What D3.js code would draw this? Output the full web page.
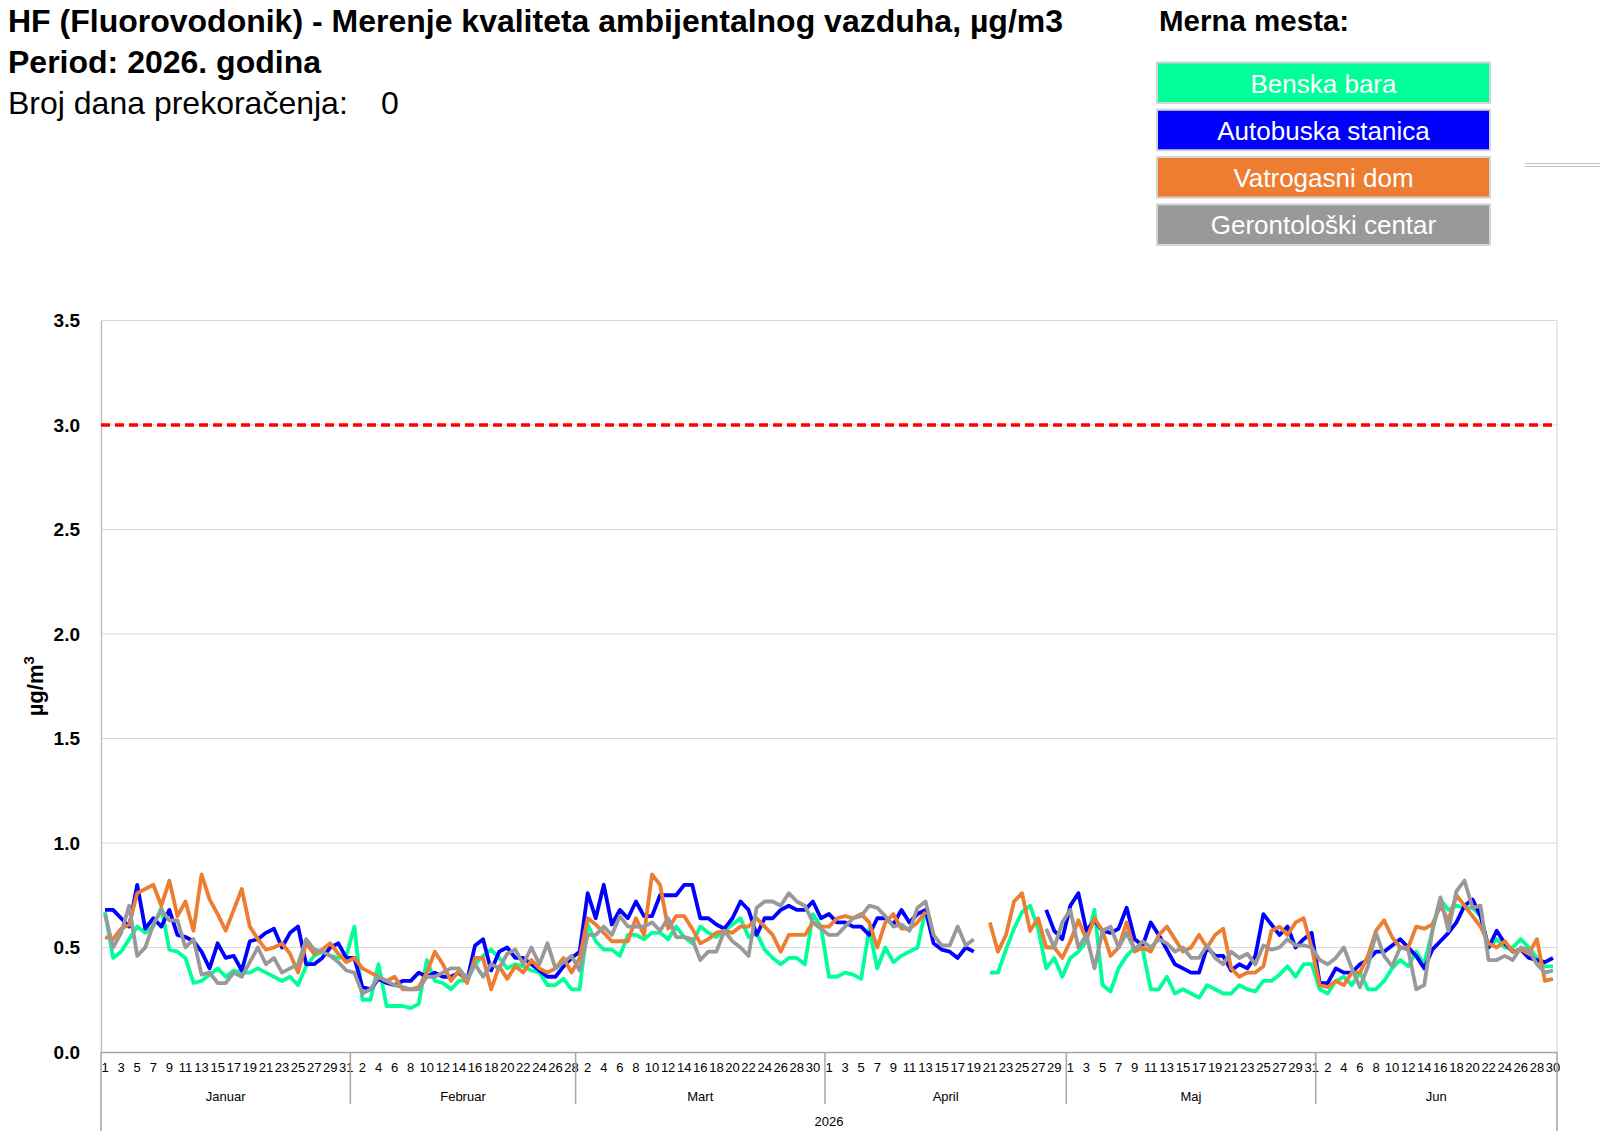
<!DOCTYPE html>
<html>
<head>
<meta charset="utf-8">
<script src="https://cdn.jsdelivr.net/npm/d3@7"></script>
<style>
  body { margin: 0; background: #fff; }
  svg { display: block; font-family: "Liberation Sans", Arial, sans-serif; }
</style>
</head>
<body>
<div id="chart"></div>
<script>
// Months and days shown on the category axis
const monthNames = ["Januar", "Februar", "Mart", "April", "Maj", "Jun"];
const monthDays = [31, 28, 31, 30, 31, 30];
const yearLabel = "2026";

const stationNames = ["Benska bara", "Autobuska stanica", "Vatrogasni dom", "Gerontološki centar"];
const stationColors = ["#00ff99", "#0000ff", "#ed7d31", "#999999"];

const limitValue = 3.0;
const exceedDays = 0;
const yTicks = [0, 0.5, 1.0, 1.5, 2.0, 2.5, 3.0, 3.5];

// Daily values, µg/m3 (null = no measurement)
const benskaBara = [
  0.67, 0.45, 0.48, 0.54, 0.60, 0.57, 0.60, 0.69, 0.49, 0.48, 0.45, 0.33, 0.34, 0.37, 0.40, 0.36, 0.39, 0.38, 0.38, 0.40, 0.38, 0.36, 0.34, 0.36, 0.32, 0.41, 0.46, 0.48, 0.46, 0.45, 0.46,
  0.60, 0.25, 0.25, 0.42, 0.22, 0.22, 0.22, 0.21, 0.23, 0.44, 0.34, 0.33, 0.30, 0.34, 0.34, 0.42, 0.46, 0.49, 0.45, 0.40, 0.42, 0.41, 0.39, 0.38, 0.32, 0.32, 0.35, 0.30,
  0.30, 0.61, 0.53, 0.49, 0.49, 0.46, 0.56, 0.56, 0.54, 0.57, 0.57, 0.54, 0.60, 0.55, 0.52, 0.60, 0.57, 0.55, 0.58, 0.61, 0.64, 0.55, 0.57, 0.49, 0.45, 0.42, 0.45, 0.45, 0.42, 0.66, 0.60,
  0.36, 0.36, 0.38, 0.37, 0.35, 0.59, 0.40, 0.50, 0.43, 0.46, 0.48, 0.50, 0.68, null, null, null, null, null, null, null, 0.38, 0.38, 0.49, 0.59, 0.67, 0.70, 0.59, 0.40, 0.45, 0.36,
  0.45, 0.48, 0.53, 0.68, 0.32, 0.29, 0.40, 0.46, 0.50, 0.49, 0.30, 0.30, 0.36, 0.28, 0.30, 0.28, 0.26, 0.32, 0.30, 0.28, 0.28, 0.32, 0.30, 0.29, 0.34, 0.34, 0.37, 0.41, 0.36, 0.42, 0.42,
  0.30, 0.28, 0.34, 0.36, 0.32, 0.38, 0.30, 0.30, 0.34, 0.40, 0.44, 0.41, 0.48, 0.42, 0.58, 0.73, 0.68, 0.70, 0.69, 0.69, 0.65, 0.50, 0.54, 0.50, 0.50, 0.54, 0.50, 0.45, 0.41, 0.41
];
const autobuskaStanica = [
  0.68, 0.68, 0.64, 0.60, 0.80, 0.59, 0.64, 0.60, 0.68, 0.56, 0.55, 0.53, 0.48, 0.40, 0.52, 0.45, 0.46, 0.39, 0.53, 0.54, 0.57, 0.59, 0.50, 0.57, 0.60, 0.42, 0.42, 0.45, 0.50, 0.52, 0.45,
  0.45, 0.31, 0.30, 0.35, 0.33, 0.32, 0.34, 0.34, 0.38, 0.36, 0.38, 0.36, 0.36, 0.38, 0.34, 0.51, 0.54, 0.39, 0.48, 0.50, 0.45, 0.45, 0.42, 0.39, 0.36, 0.36, 0.41, 0.45,
  0.48, 0.76, 0.64, 0.80, 0.61, 0.68, 0.64, 0.72, 0.65, 0.65, 0.75, 0.75, 0.75, 0.80, 0.80, 0.64, 0.64, 0.61, 0.59, 0.64, 0.72, 0.68, 0.56, 0.64, 0.64, 0.68, 0.70, 0.68, 0.68, 0.72, 0.64,
  0.66, 0.62, 0.62, 0.60, 0.60, 0.56, 0.64, 0.64, 0.61, 0.68, 0.62, 0.66, 0.68, 0.52, 0.49, 0.48, 0.45, 0.50, 0.48, null, null, null, null, null, null, null, null, 0.68, 0.58, 0.54,
  0.70, 0.76, 0.58, 0.63, 0.58, 0.57, 0.59, 0.69, 0.54, 0.51, 0.62, 0.56, 0.49, 0.42, 0.40, 0.38, 0.38, 0.50, 0.46, 0.46, 0.39, 0.42, 0.40, 0.46, 0.66, 0.61, 0.56, 0.60, 0.50, 0.54, 0.57,
  0.33, 0.33, 0.40, 0.38, 0.38, 0.42, 0.44, 0.48, 0.48, 0.51, 0.54, 0.50, 0.46, 0.40, 0.49, 0.53, 0.57, 0.62, 0.70, 0.73, 0.65, 0.50, 0.58, 0.52, 0.48, 0.49, 0.45, 0.44, 0.43, 0.45
];
const vatrogasniDom = [
  0.55, 0.54, 0.59, 0.61, 0.76, 0.78, 0.80, 0.70, 0.82, 0.65, 0.72, 0.58, 0.85, 0.73, 0.66, 0.58, 0.68, 0.78, 0.60, 0.54, 0.49, 0.50, 0.52, 0.47, 0.38, 0.52, 0.47, 0.49, 0.52, 0.47, 0.43,
  0.45, 0.40, 0.38, 0.36, 0.34, 0.36, 0.30, 0.30, 0.31, 0.38, 0.48, 0.42, 0.34, 0.39, 0.33, 0.45, 0.45, 0.30, 0.41, 0.35, 0.41, 0.38, 0.44, 0.40, 0.38, 0.40, 0.45, 0.38,
  0.45, 0.64, 0.61, 0.57, 0.53, 0.53, 0.53, 0.64, 0.56, 0.85, 0.80, 0.59, 0.65, 0.65, 0.59, 0.52, 0.54, 0.57, 0.58, 0.57, 0.60, 0.60, 0.64, 0.60, 0.56, 0.48, 0.56, 0.56, 0.56, 0.62, 0.60,
  0.60, 0.64, 0.65, 0.64, 0.66, 0.62, 0.50, 0.62, 0.66, 0.59, 0.59, 0.62, 0.67, null, null, null, null, null, null, null, 0.62, 0.48, 0.56, 0.72, 0.76, 0.58, 0.64, 0.50, 0.50, 0.45,
  0.53, 0.63, 0.54, 0.64, 0.58, 0.46, 0.50, 0.62, 0.48, 0.50, 0.48, 0.56, 0.60, 0.54, 0.48, 0.50, 0.56, 0.50, 0.56, 0.59, 0.40, 0.36, 0.38, 0.38, 0.41, 0.58, 0.60, 0.56, 0.62, 0.64, 0.50,
  0.32, 0.31, 0.34, 0.32, 0.38, 0.38, 0.46, 0.58, 0.63, 0.55, 0.50, 0.50, 0.60, 0.59, 0.61, 0.70, 0.63, 0.75, 0.70, 0.65, 0.60, 0.52, 0.50, 0.53, 0.48, 0.49, 0.47, 0.54, 0.34, 0.35
];
const gerontoloskiCentar = [
  0.66, 0.50, 0.57, 0.70, 0.46, 0.50, 0.61, 0.68, 0.63, 0.63, 0.50, 0.54, 0.37, 0.38, 0.33, 0.33, 0.38, 0.36, 0.43, 0.50, 0.42, 0.45, 0.38, 0.40, 0.42, 0.54, 0.49, 0.48, 0.46, 0.43, 0.39,
  0.38, 0.28, 0.30, 0.36, 0.34, 0.32, 0.31, 0.30, 0.30, 0.36, 0.36, 0.38, 0.40, 0.40, 0.35, 0.42, 0.36, 0.42, 0.40, 0.47, 0.49, 0.42, 0.50, 0.42, 0.52, 0.40, 0.43, 0.46,
  0.39, 0.56, 0.56, 0.60, 0.56, 0.65, 0.60, 0.60, 0.60, 0.62, 0.58, 0.64, 0.55, 0.55, 0.54, 0.44, 0.48, 0.48, 0.58, 0.53, 0.50, 0.46, 0.69, 0.72, 0.72, 0.70, 0.76, 0.72, 0.70, 0.62, 0.59,
  0.56, 0.56, 0.60, 0.64, 0.65, 0.70, 0.69, 0.65, 0.60, 0.61, 0.58, 0.69, 0.72, 0.56, 0.51, 0.51, 0.60, 0.51, 0.54, null, null, null, null, null, null, null, null, 0.59, 0.50, 0.62,
  0.68, 0.50, 0.56, 0.40, 0.58, 0.60, 0.50, 0.57, 0.49, 0.53, 0.50, 0.54, 0.52, 0.48, 0.50, 0.45, 0.45, 0.51, 0.45, 0.42, 0.48, 0.45, 0.47, 0.42, 0.51, 0.49, 0.50, 0.54, 0.51, 0.51, 0.50,
  0.44, 0.42, 0.45, 0.50, 0.40, 0.31, 0.41, 0.57, 0.46, 0.41, 0.50, 0.49, 0.30, 0.32, 0.58, 0.74, 0.58, 0.77, 0.82, 0.69, 0.70, 0.44, 0.44, 0.46, 0.44, 0.50, 0.49, 0.42, 0.38, 0.39
];

const seriesValues = [benskaBara, autobuskaStanica, vatrogasniDom, gerontoloskiCentar];

// Build the day categories from months
const days = [];
monthNames.forEach((m, mi) => {
  for (let d = 1; d <= monthDays[mi]; d++) days.push({ month: mi, day: d, idx: days.length });
});

const width = 1600, height = 1141;
const margin = { top: 320.5, right: 43, bottom: 89, left: 101 };
const plotW = width - margin.left - margin.right;
const plotH = height - margin.top - margin.bottom;

const svg = d3.select("#chart").append("svg")
  .attr("width", width)
  .attr("height", height);

// Header texts
svg.append("text").attr("x", 8).attr("y", 32)
  .attr("font-size", 32).attr("font-weight", "bold")
  .text("HF (Fluorovodonik) - Merenje kvaliteta ambijentalnog vazduha, µg/m3");
svg.append("text").attr("x", 8).attr("y", 73)
  .attr("font-size", 32).attr("font-weight", "bold")
  .text("Period: 2026. godina");
svg.append("text").attr("x", 8).attr("y", 114)
  .attr("font-size", 32)
  .text("Broj dana prekoračenja:");
svg.append("text").attr("x", 381).attr("y", 114)
  .attr("font-size", 32)
  .text(exceedDays);

// Legend
const legend = svg.append("g").attr("transform", "translate(1157,0)");
legend.append("text").attr("x", 2).attr("y", 31)
  .attr("font-size", 29.5).attr("font-weight", "bold")
  .text("Merna mesta:");
const legendItems = legend.selectAll("g.item")
  .data(stationNames)
  .join("g")
  .attr("class", "item")
  .attr("transform", (d, i) => `translate(0, ${62.5 + i * 47.3})`);
legendItems.append("rect")
  .attr("width", 333).attr("height", 40.5)
  .attr("fill", (d, i) => stationColors[i])
  .attr("stroke", "#d4d4d4").attr("stroke-width", 2);
legendItems.append("text")
  .attr("x", 166.5).attr("y", 21)
  .attr("dy", "0.35em")
  .attr("text-anchor", "middle")
  .attr("font-size", 26).attr("fill", "#fff")
  .text(d => d);

// stray double rule top right
svg.append("g").selectAll("line")
  .data([163.5, 166.5])
  .join("line")
  .attr("x1", 1525).attr("x2", 1600)
  .attr("y1", d => d).attr("y2", d => d)
  .attr("stroke", "#c4c4c4").attr("stroke-width", 1);

// Scales
const x = d3.scaleBand()
  .domain(days.map(d => d.idx))
  .range([margin.left, margin.left + plotW]);
const y = d3.scaleLinear()
  .domain([0, 3.5])
  .range([margin.top + plotH, margin.top]);

const chart = svg.append("g");

// Gridlines
chart.append("g").selectAll("line")
  .data(yTicks.filter(t => t > 0))
  .join("line")
  .attr("x1", margin.left).attr("x2", margin.left + plotW)
  .attr("y1", d => y(d)).attr("y2", d => y(d))
  .attr("stroke", "#d9d9d9").attr("stroke-width", 1.2);

// Right border of plot area
chart.append("line")
  .attr("x1", margin.left + plotW).attr("x2", margin.left + plotW)
  .attr("y1", y(3.5)).attr("y2", y(0))
  .attr("stroke", "#d9d9d9").attr("stroke-width", 1.2);

// Y axis
const yAxis = chart.append("g")
  .attr("transform", `translate(${margin.left},0)`)
  .call(d3.axisLeft(y).tickValues(yTicks).tickFormat(d3.format(".1f")).tickSize(0).tickPadding(21));
yAxis.select(".domain").attr("stroke", "#bfbfbf").attr("stroke-width", 1.5);
yAxis.selectAll("text")
  .attr("font-size", 19).attr("font-weight", "bold").attr("fill", "#000")
  .attr("font-family", "Liberation Sans, Arial, sans-serif");

svg.append("text")
  .attr("transform", `translate(43, ${y(1.75)}) rotate(-90)`)
  .attr("text-anchor", "middle")
  .attr("font-size", 22).attr("font-weight", "bold")
  .html('µg/m<tspan dy="-9" font-size="15">3</tspan>');

// X axis: day labels
const xAxis = chart.append("g")
  .attr("transform", `translate(0,${y(0)})`)
  .call(d3.axisBottom(x)
    .tickValues(days.filter(d => d.idx % 2 === 0).map(d => d.idx))
    .tickFormat(i => days[i].day)
    .tickSize(0).tickPadding(11));
xAxis.select(".domain").attr("stroke", "#a6a6a6").attr("stroke-width", 1.5);
xAxis.selectAll("text")
  .attr("font-size", 13).attr("fill", "#000")
  .attr("font-family", "Liberation Sans, Arial, sans-serif");

// Month boundaries and labels
const monthStart = [];
let acc = 0;
monthDays.forEach(n => { monthStart.push(acc); acc += n; });
const edgeX = i => (i < days.length ? x(i) : x(days.length - 1) + x.bandwidth());

chart.append("g").selectAll("line")
  .data(d3.range(monthNames.length + 1))
  .join("line")
  .attr("x1", i => edgeX(i < monthNames.length ? monthStart[i] : days.length))
  .attr("x2", i => edgeX(i < monthNames.length ? monthStart[i] : days.length))
  .attr("y1", y(0))
  .attr("y2", i => (i === 0 || i === monthNames.length) ? 1131 : 1104)
  .attr("stroke", "#a6a6a6").attr("stroke-width", 1.5);

chart.append("g").selectAll("text")
  .data(monthNames)
  .join("text")
  .attr("x", (d, i) => (edgeX(monthStart[i]) + edgeX(monthStart[i] + monthDays[i])) / 2)
  .attr("y", 1096).attr("dy", "0.35em")
  .attr("text-anchor", "middle")
  .attr("font-size", 13)
  .text(d => d);

chart.append("text")
  .attr("x", margin.left + plotW / 2).attr("y", 1121.5).attr("dy", "0.35em")
  .attr("text-anchor", "middle")
  .attr("font-size", 13)
  .text(yearLabel);

// Limit value line
chart.append("line")
  .attr("x1", margin.left).attr("x2", margin.left + plotW)
  .attr("y1", y(limitValue)).attr("y2", y(limitValue))
  .attr("stroke", "#ff0000").attr("stroke-width", 3.5)
  .attr("stroke-dasharray", "9,5");

// Series lines
const line = d3.line()
  .defined(d => d.v !== null)
  .x(d => x(d.i) + x.bandwidth() / 2)
  .y(d => y(d.v));

chart.append("g").selectAll("path")
  .data(seriesValues)
  .join("path")
  .attr("d", vals => line(vals.map((v, i) => ({ i, v }))))
  .attr("fill", "none")
  .attr("stroke", (d, i) => stationColors[i])
  .attr("stroke-width", 3.8)
  .attr("stroke-linejoin", "round");
</script>
</body>
</html>
